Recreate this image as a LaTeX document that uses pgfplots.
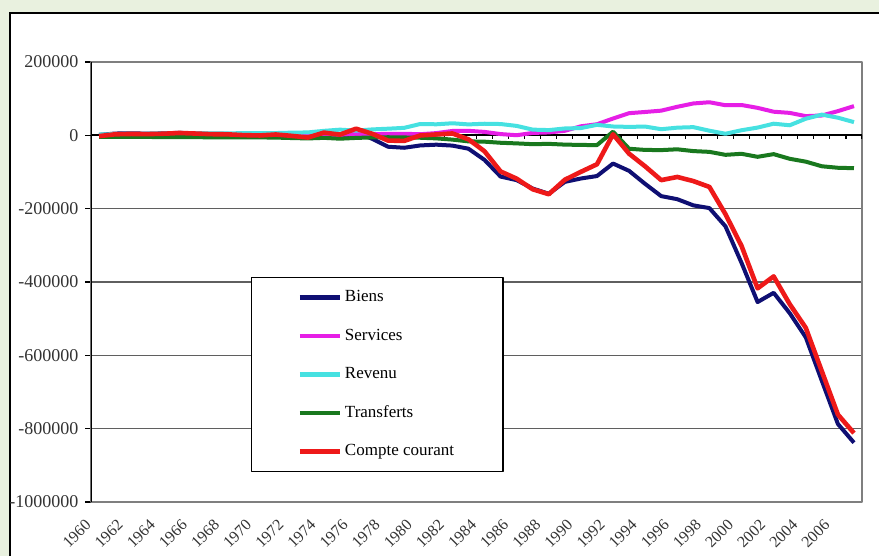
\documentclass[border=0pt]{standalone}
\usepackage{fontspec}
\setmainfont{Liberation Serif}
\usepackage{pgfplots}
\pgfplotsset{compat=1.18}
\usepackage{pgfplotstable}

\definecolor{panelbg}{RGB}{233,241,223}
\definecolor{biens}{RGB}{15,15,115}
\definecolor{services}{RGB}{230,30,230}
\definecolor{revenu}{RGB}{70,225,225}
\definecolor{transferts}{RGB}{25,120,30}
\definecolor{compte}{RGB}{238,25,25}
\definecolor{gridgray}{RGB}{95,95,95}

% Balance des paiements courants (millions de dollars)
\pgfplotstableread{
annee biens services revenu transferts compte
1960 1148 -1500 2200 -4000 -2152
1961 4892 -1400 3400 -4100 2792
1962 5571 -1400 3900 -4300 3771
1963 4521 -1000 4300 -4500 3321
1964 5224 -800 4600 -4700 4324
1965 6801 -500 5000 -4900 6401
1966 4951 -300 5300 -5100 4851
1967 3817 -300 5000 -5400 3117
1968 3800 -500 5300 -5900 2700
1969 635 -500 6000 -5600 535
1970 607 -1300 6000 -5700 -393
1971 2603 -300 6200 -6200 2303
1972 -2260 900 7300 -7400 -1460
1973 -6416 1000 7900 -8500 -6016
1974 911 1200 12200 -6900 7411
1975 -5505 1200 15500 -9200 1995
1976 8903 3500 12800 -7100 18103
1977 -9483 3400 16100 -5700 4317
1978 -31091 3800 18100 -5200 -14391
1979 -33927 4200 20400 -5800 -15127
1980 -27568 3000 30900 -6600 -268
1981 -25500 6100 30100 -8300 2400
1982 -28023 11900 32900 -11700 5077
1983 -36485 12300 29800 -16500 -10885
1984 -67102 9300 31600 -17300 -43502
1985 -112492 3400 30800 -20300 -98592
1986 -122173 300 25700 -22000 -118173
1987 -145081 6500 15500 -24100 -147181
1988 -159557 7900 14300 -23300 -160657
1989 -126959 12400 18700 -25300 -121159
1990 -117749 24600 19800 -26200 -99549
1991 -111037 30200 28600 -26700 -78937
1992 -76937 45800 24100 9900 2863
1993 -96897 60400 23000 -36600 -50097
1994 -132451 63700 23900 -39800 -84651
1995 -165831 67300 16700 -40300 -122131
1996 -174170 77800 20900 -38100 -113570
1997 -191000 86900 22300 -43000 -124800
1998 -198428 90200 12600 -45100 -140728
1999 -248221 82100 4300 -53200 -215021
2000 -347819 82700 13900 -50400 -301619
2001 -454690 74900 21100 -58600 -417290
2002 -429519 64400 31700 -51300 -384719
2003 -485034 61200 27400 -64000 -460434
2004 -550892 52400 45300 -71800 -524992
2005 -669578 54100 56400 -84400 -643478
2006 -787149 66000 48100 -88500 -761549
2007 -838271 79700 36000 -89600 -812171
}\balance

% tick marks on the category axis (between categories)
\pgfplotstableread{
x y
1959.5 -11000
1960.5 -11000
1961.5 -11000
1962.5 -11000
1963.5 -11000
1964.5 -11000
1965.5 -11000
1966.5 -11000
1967.5 -11000
1968.5 -11000
1969.5 -11000
1970.5 -11000
1971.5 -11000
1972.5 -11000
1973.5 -11000
1974.5 -11000
1975.5 -11000
1976.5 -11000
1977.5 -11000
1978.5 -11000
1979.5 -11000
1980.5 -11000
1981.5 -11000
1982.5 -11000
1983.5 -11000
1984.5 -11000
1985.5 -11000
1986.5 -11000
1987.5 -11000
1988.5 -11000
1989.5 -11000
1990.5 -11000
1991.5 -11000
1992.5 -11000
1993.5 -11000
1994.5 -11000
1995.5 -11000
1996.5 -11000
1997.5 -11000
1998.5 -11000
1999.5 -11000
2000.5 -11000
2001.5 -11000
2002.5 -11000
2003.5 -11000
2004.5 -11000
2005.5 -11000
2006.5 -11000
2007.5 -11000
}\cattick

\begin{document}
\begin{tikzpicture}
\useasboundingbox (0,0) rectangle (439.5pt,278pt);
\clip (0,0) rectangle (439.5pt,278pt);
\fill[panelbg] (0,0) rectangle (439.5pt,278pt);
\draw[black, line width=1.3pt, fill=white] (5pt,-10pt) rectangle (450pt,271.5pt);

\begin{axis}[
  at={(45.5pt,27pt)}, anchor=south west,
  scale only axis, width=385.5pt, height=220pt,
  xmin=1959.5, xmax=2007.5,
  ymin=-1000000, ymax=200000,
  axis line style={gridgray!80, line width=1pt},
  xtick={1960,1962,...,2006},
  xtick style={draw=none},
  xticklabel style={font=\fontsize{8}{9}\selectfont, text=black!80,
    /pgf/number format/1000 sep={},
    xshift=-3pt, yshift=-5pt, rotate=45, anchor=east},
  /pgf/number format/assume math mode=true,
  ytick={-1000000,-800000,-600000,-400000,-200000,200000},
  yticklabels={-1000000,-800000,-600000,-400000,-200000,200000},
  extra y ticks={0}, extra y tick labels={0},
  extra y tick style={grid=major, major grid style={black, line width=1pt}},
  scaled y ticks=false,
  ytick pos=left, tick align=outside,
  ytick style={black, line width=0.6pt},
  major tick length=2.8pt,
  yticklabel style={font=\fontsize{9}{10}\selectfont, text=black!80},
  ymajorgrids, major grid style={gridgray, line width=0.8pt},
  line join=round,
  legend cell align=left,
  legend image code/.code={\draw[#1, line width=2.2pt] (0pt,0pt) -- (20pt,0pt);},
  legend style={at={(0.2075,0.5114)}, anchor=north west,
    draw=black, line width=0.6pt, fill=white,
    inner xsep=23pt, inner ysep=6pt, row sep=11.25pt,
    font=\fontsize{8.5}{10}\selectfont,
    nodes={inner xsep=1.5pt, inner ysep=0pt, text height=6pt, text depth=2pt}},
]
\addplot[ycomb, black, line width=0.6pt, forget plot] table[x=x, y=y] {\cattick};
\addplot[biens, line width=2pt] table[x=annee, y=biens] {\balance};
\addlegendentry{Biens}
\addplot[services, line width=2pt] table[x=annee, y=services] {\balance};
\addlegendentry{Services}
\addplot[revenu, line width=2pt] table[x=annee, y=revenu] {\balance};
\addlegendentry{Revenu}
\addplot[transferts, line width=2pt] table[x=annee, y=transferts] {\balance};
\addlegendentry{Transferts}
\addplot[compte, line width=2.3pt] table[x=annee, y=compte] {\balance};
\addlegendentry{Compte courant}
\draw[black, line width=1pt] (rel axis cs:0,0) -- (rel axis cs:0,1);
\end{axis}
\end{tikzpicture}
\end{document}
